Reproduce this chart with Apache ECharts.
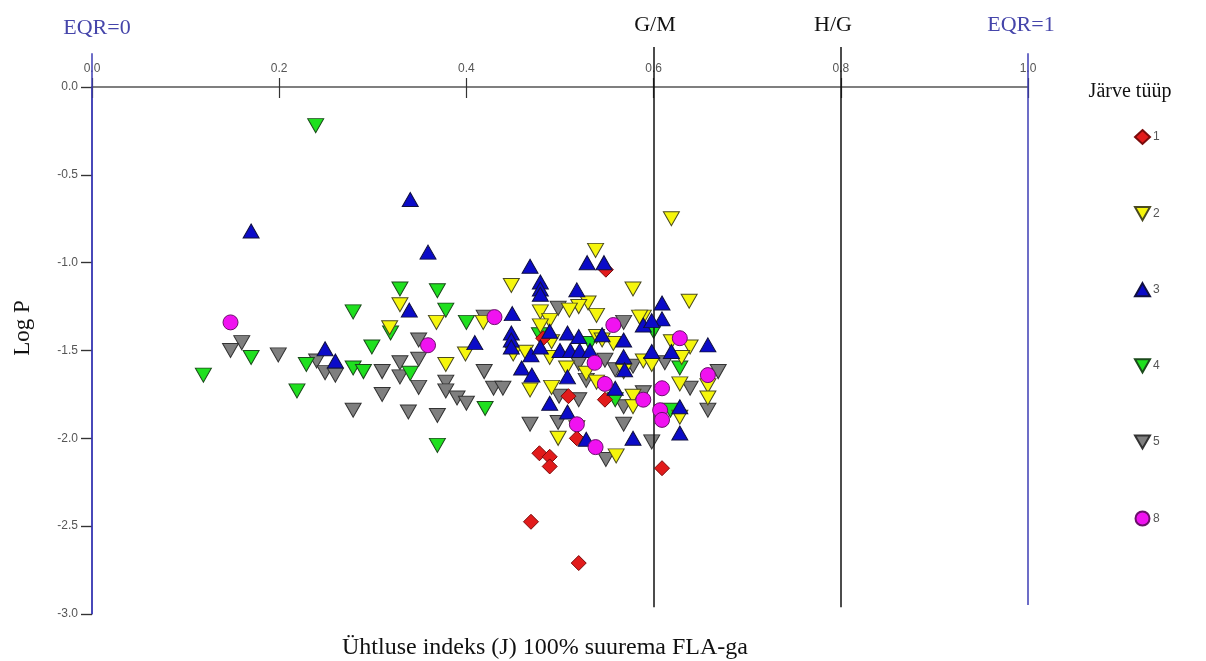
<!DOCTYPE html>
<html>
<head>
<meta charset="utf-8">
<script src="https://cdn.jsdelivr.net/npm/echarts@6/dist/echarts.min.js"></script>
<style>
html,body{margin:0;padding:0;background:#fff;}
#chart{width:1206px;height:661px;}
</style>
</head>
<body>
<div id="chart"></div>
<script>
// ---- data ----
const categories = ['1', '2', '3', '4', '5', '8'];
const xTickValues = [0, 0.2, 0.4, 0.6, 0.8, 1.0];
const yTickValues = [0, -0.5, -1.0, -1.5, -2.0, -2.5, -3.0];
const boundaryValues = [0.6, 0.8];
const boundaryLabels = ['G/M', 'H/G'];
const eqrValues = [0, 1];
const eqrLabels = ['EQR=0', 'EQR=1'];

const type1 = [[0.549,-1.04],[0.482,-1.43],[0.509,-1.76],[0.548,-1.78],[0.518,-2.0],[0.478,-2.085],
  [0.489,-2.105],[0.489,-2.16],[0.609,-2.17],[0.469,-2.475],[0.520,-2.71]];
const type2 = [[0.538,-0.93],[0.619,-0.75],[0.448,-1.13],[0.578,-1.15],[0.638,-1.22],[0.329,-1.24],
  [0.530,-1.23],[0.520,-1.25],[0.510,-1.27],[0.479,-1.28],[0.539,-1.30],[0.589,-1.31],[0.368,-1.34],
  [0.418,-1.34],[0.318,-1.37],[0.489,-1.33],[0.479,-1.36],[0.539,-1.42],[0.491,-1.45],[0.399,-1.52],
  [0.450,-1.52],[0.463,-1.51],[0.489,-1.54],[0.557,-1.46],[0.545,-1.44],[0.619,-1.45],[0.639,-1.48],
  [0.630,-1.54],[0.589,-1.56],[0.598,-1.58],[0.507,-1.60],[0.528,-1.63],[0.378,-1.58],[0.468,-1.725],
  [0.491,-1.71],[0.539,-1.68],[0.628,-1.69],[0.658,-1.70],[0.658,-1.77],[0.578,-1.76],[0.578,-1.82],
  [0.628,-1.88],[0.498,-2.0],[0.518,-1.94],[0.560,-2.10],[0.585,-1.31],[0.568,-1.62]];
const type3 = [[0.170,-0.82],[0.34,-0.64],[0.359,-0.94],[0.468,-1.02],[0.529,-1.00],[0.547,-1.00],
  [0.479,-1.11],[0.479,-1.15],[0.479,-1.18],[0.518,-1.155],[0.339,-1.27],[0.449,-1.29],[0.448,-1.40],
  [0.448,-1.44],[0.448,-1.48],[0.409,-1.455],[0.249,-1.49],[0.260,-1.56],[0.459,-1.60],[0.470,-1.64],
  [0.469,-1.525],[0.489,-1.39],[0.508,-1.40],[0.520,-1.42],[0.479,-1.48],[0.500,-1.50],[0.511,-1.50],
  [0.521,-1.50],[0.532,-1.50],[0.508,-1.65],[0.508,-1.85],[0.568,-1.44],[0.568,-1.535],[0.569,-1.61],
  [0.559,-1.715],[0.578,-2.0],[0.528,-2.005],[0.609,-1.23],[0.609,-1.32],[0.589,-1.355],[0.598,-1.33],
  [0.598,-1.506],[0.619,-1.506],[0.658,-1.468],[0.628,-1.82],[0.628,-1.97],[0.489,-1.80],[0.545,-1.41]];
const type4 = [[0.239,-0.22],[0.279,-1.28],[0.329,-1.15],[0.369,-1.16],[0.378,-1.27],[0.400,-1.34],
  [0.319,-1.40],[0.299,-1.48],[0.170,-1.54],[0.119,-1.64],[0.229,-1.58],[0.219,-1.73],[0.279,-1.60],
  [0.290,-1.62],[0.340,-1.63],[0.420,-1.83],[0.369,-2.04],[0.478,-1.41],[0.532,-1.46],[0.600,-1.39],
  [0.628,-1.60],[0.559,-1.78],[0.618,-1.84]];
const type5 = [[0.160,-1.455],[0.148,-1.50],[0.199,-1.525],[0.240,-1.56],[0.249,-1.626],[0.260,-1.64],
  [0.279,-1.84],[0.310,-1.62],[0.310,-1.75],[0.329,-1.57],[0.329,-1.65],[0.349,-1.44],[0.349,-1.55],
  [0.349,-1.71],[0.338,-1.85],[0.369,-1.87],[0.378,-1.68],[0.378,-1.73],[0.390,-1.77],[0.400,-1.80],
  [0.419,-1.62],[0.429,-1.715],[0.439,-1.715],[0.419,-1.31],[0.468,-1.92],[0.498,-1.91],[0.498,-1.26],
  [0.520,-1.575],[0.548,-1.555],[0.528,-1.67],[0.499,-1.76],[0.520,-1.78],[0.568,-1.34],[0.559,-1.61],
  [0.578,-1.59],[0.589,-1.74],[0.568,-1.82],[0.568,-1.92],[0.598,-2.02],[0.549,-2.12],[0.639,-1.715],
  [0.669,-1.62],[0.658,-1.84],[0.612,-1.57]];
const type8 = [[0.148,-1.34],[0.359,-1.47],[0.430,-1.31],[0.537,-1.57],[0.548,-1.69],[0.557,-1.355],
  [0.628,-1.43],[0.658,-1.64],[0.609,-1.715],[0.607,-1.84],[0.609,-1.895],[0.589,-1.78],[0.518,-1.92],
  [0.538,-2.05]];

// ---- rendering ----
const chart = echarts.init(document.getElementById('chart'), null, {renderer: 'canvas'});
const SERIF = '"Liberation Serif", "DejaVu Serif", serif';
const SANS = '"Liberation Sans", Arial, sans-serif';
const DOWN = 'path://M0,0 L16,0 L8,14 Z';
const UP = 'path://M8,0 L16,14 L0,14 Z';
const fmt = v => v.toFixed(1);

const styles = {
  '1': {symbol: 'diamond', size: [15, 15], color: '#e21b1b', border: '#7a0a0a'},
  '2': {symbol: DOWN, size: [16, 14], color: '#f6f60c', border: '#4a4a20'},
  '3': {symbol: UP, size: [16, 14], color: '#0b0bc8', border: '#101040'},
  '4': {symbol: DOWN, size: [16, 14], color: '#1fe01f', border: '#1b4a1b'},
  '5': {symbol: DOWN, size: [16, 14], color: '#7f7f7f', border: '#333333'},
  '8': {symbol: 'circle', size: 15, color: '#f012f0', border: '#6a106a'}
};
const dataByType = {'1': type1, '2': type2, '3': type3, '4': type4, '5': type5, '8': type8};
const drawOrder = ['5', '4', '2', '1', '3', '8'];

const scatterSeries = drawOrder.map((k, i) => ({
  name: k, type: 'scatter', xAxisIndex: 0, yAxisIndex: 0,
  data: dataByType[k], symbol: styles[k].symbol, symbolSize: styles[k].size,
  itemStyle: {color: styles[k].color, borderColor: styles[k].border, borderWidth: 1, opacity: 1},
  z: 3 + i, emphasis: {disabled: true}
}));

// reference line extents in the overlay grid (0 = bottom 614px, 1 = top 47px)
const eqrSpans = [[0, 0.989], [0.016, 0.989]];
const boundarySpan = [0.012, 1.0];

const refLines = {
  type: 'line', xAxisIndex: 2, yAxisIndex: 2, data: [], silent: true, z: 2,
  markLine: {
    symbol: 'none', silent: true, label: {show: false}, animation: false,
    data: [
      ...eqrValues.map((v, i) => [
        {coord: [v, eqrSpans[i][0]], lineStyle: {color: '#3d3db5', width: 1.5, type: 'solid'}},
        {coord: [v, eqrSpans[i][1]]}
      ]),
      ...boundaryValues.map(v => [
        {coord: [v, boundarySpan[0]], lineStyle: {color: '#111', width: 1.5, type: 'solid'}},
        {coord: [v, boundarySpan[1]]}
      ])
    ]
  }
};

const option = {
  animation: false,
  backgroundColor: '#ffffff',
  grid: [
    {left: 92, right: 178, top: 87, bottom: 47, containLabel: false},
    {left: 92, right: 178, top: 47, bottom: 47, containLabel: false}
  ],
  xAxis: [
    {type: 'value', gridIndex: 0, min: 0, max: 1, interval: 0.2, position: 'top',
     axisLine: {show: true, onZero: false, lineStyle: {color: '#555', width: 1.5}},
     axisTick: {show: true, length: 9, lineStyle: {color: '#333', width: 1.2}},
     axisLabel: {formatter: fmt, color: '#555', fontSize: 12, fontFamily: SANS, margin: 12},
     splitLine: {show: false}},
    {type: 'value', gridIndex: 0, min: 0, max: 1, interval: 0.2, position: 'top',
     axisLine: {show: false}, axisLabel: {show: false}, splitLine: {show: false},
     axisTick: {show: true, inside: true, length: 11, lineStyle: {color: '#333', width: 1.2}}},
    {type: 'value', gridIndex: 1, min: 0, max: 1, show: false}
  ],
  yAxis: [
    {type: 'value', gridIndex: 0, min: -3, max: 0, interval: 0.5,
     axisLine: {show: true, onZero: false, lineStyle: {color: '#3d3db5', width: 1.5}},
     axisTick: {show: true, length: 11, lineStyle: {color: '#333', width: 1.2}},
     axisLabel: {formatter: fmt, color: '#555', fontSize: 12, fontFamily: SANS, margin: 14},
     splitLine: {show: false}},
    {type: 'value', gridIndex: 0, min: -3, max: 0, interval: 0.5,
     axisLine: {show: false}, axisLabel: {show: false}, splitLine: {show: false},
     axisTick: {show: true, inside: true, length: 11, lineStyle: {color: '#333', width: 1.2}}},
    {type: 'value', gridIndex: 1, min: 0, max: 1, show: false}
  ],
  legend: {
    data: categories, orient: 'vertical', left: 1134, top: 129,
    itemWidth: 15, itemHeight: 14, itemGap: 61, padding: 0, selectedMode: false,
    textStyle: {color: '#555', fontSize: 12, fontFamily: SANS, padding: [0, 0, 0, -2]}
  },
  graphic: [
    {type: 'text', x: 97, y: 28, style: {text: eqrLabels[0], font: '22px ' + SERIF, fill: '#4545aa', align: 'center', verticalAlign: 'middle'}},
    {type: 'text', x: 1021, y: 25, style: {text: eqrLabels[1], font: '22px ' + SERIF, fill: '#4545aa', align: 'center', verticalAlign: 'middle'}},
    {type: 'text', x: 655, y: 25, style: {text: boundaryLabels[0], font: '22px ' + SERIF, fill: '#111', align: 'center', verticalAlign: 'middle'}},
    {type: 'text', x: 833, y: 25, style: {text: boundaryLabels[1], font: '22px ' + SERIF, fill: '#111', align: 'center', verticalAlign: 'middle'}},
    {type: 'text', x: 23, y: 328, rotation: Math.PI / 2, style: {text: 'Log P', font: '23px ' + SERIF, fill: '#111', align: 'center', verticalAlign: 'middle'}},
    {type: 'text', x: 545, y: 648, style: {text: 'Ühtluse indeks (J) 100% suurema FLA-ga', font: '24px ' + SERIF, fill: '#111', align: 'center', verticalAlign: 'middle'}},
    {type: 'text', x: 1130, y: 92, style: {text: 'Järve tüüp', font: '20px ' + SERIF, fill: '#111', align: 'center', verticalAlign: 'middle'}}
  ],
  series: [refLines, ...scatterSeries]
};
chart.setOption(option);
</script>
</body>
</html>
